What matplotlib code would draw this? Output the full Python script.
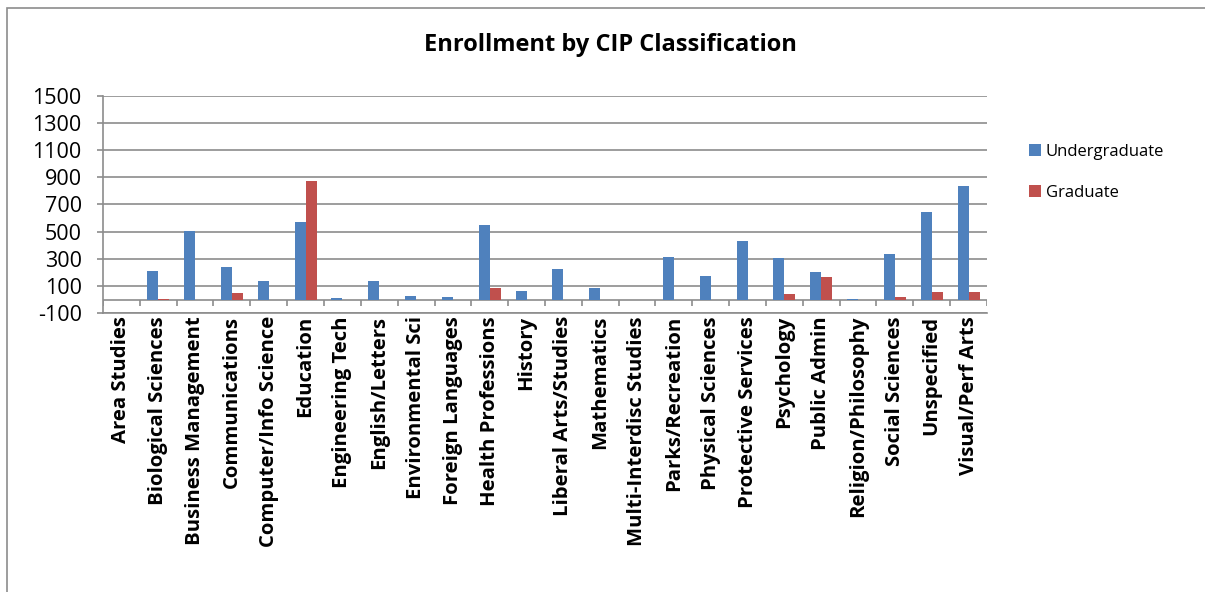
import numpy as np
import matplotlib.pyplot as plt
from matplotlib.patches import Rectangle

plt.rcParams['font.family'] = ['Open Sans', 'DejaVu Sans']

categories = ["Area Studies", "Biological Sciences", "Business Management", "Communications",
              "Computer/Info Science", "Education", "Engineering Tech", "English/Letters",
              "Environmental Sci", "Foreign Languages", "Health Professions", "History",
              "Liberal Arts/Studies", "Mathematics", "Multi-Interdisc Studies", "Parks/Recreation",
              "Physical Sciences", "Protective Services", "Psychology", "Public Admin",
              "Religion/Philosophy", "Social Sciences", "Unspecified", "Visual/Perf Arts"]
undergrad = [0, 208, 505, 238, 137, 573, 15, 137, 27, 22, 551, 66,
             223, 86, 0, 314, 174, 431, 309, 201, 5, 336, 645, 836]
graduate = [0, 5, 0, 47, 0, 875, 0, 0, 0, 0, 86, 0,
            0, 0, 0, 0, 0, 0, 44, 164, 0, 17, 56, 54]
yticks = list(range(-100, 1501, 200))

blue = "#4F81BD"
red = "#C0504D"
grid = "#8C8C8C"

fig = plt.figure(figsize=(12.05, 5.92), dpi=100)
ax = fig.add_axes([103/1205, 1 - 313.3/592, 884/1205, 217.6/592])

x = np.arange(len(categories))
w = 0.3
ax.bar(x - w/2, undergrad, w, color=blue, label="Undergraduate", zorder=3)
ax.bar(x + w/2, graduate, w, color=red, label="Graduate", zorder=3)

ax.set_xlim(-0.5, len(categories) - 0.5)
ax.set_ylim(-100, 1500)
ax.set_yticks(yticks)
ax.set_yticklabels([str(t) for t in yticks], fontsize=15.5)
ax.yaxis.grid(True, color=grid, linewidth=1.2, zorder=0)
ax.tick_params(axis='y', length=4.3, color=grid, width=1.2, pad=11)

ax.set_xticks(x)
ax.set_xticklabels(categories, rotation=90, fontsize=14.6, fontweight='bold')
ax.tick_params(axis='x', length=0, pad=2)

# zero line with category separators hanging below it
ax.axhline(0, color=grid, linewidth=1.2, zorder=2)
ax.vlines(np.arange(len(categories) + 1) - 0.5, -45, 0, color=grid, linewidth=1.2, zorder=2)

for s in ['top', 'right']:
    ax.spines[s].set_visible(False)
ax.spines['bottom'].set_color(grid)
ax.spines['bottom'].set_linewidth(1.2)
ax.spines['left'].set_color(grid)
ax.spines['left'].set_linewidth(1.2)

fig.text(610/1205, 1 - 45/592, "Enrollment by CIP Classification", fontsize=17,
         fontweight='bold', ha='center', va='center')

ax.legend(loc='upper left', bbox_to_anchor=(1014/1205, 1 - 129/592),
          bbox_transform=fig.transFigure, frameon=False, fontsize=12,
          handlelength=0.7, handleheight=0.7, handletextpad=0.3, labelspacing=1.5)

fig.patches.append(Rectangle((7/1205, -0.1), 1.2, 1 - 8/592 + 0.1, transform=fig.transFigure,
                             fill=False, edgecolor="#8C8C8C", linewidth=1.2))

fig.savefig("out.png", dpi=100)
